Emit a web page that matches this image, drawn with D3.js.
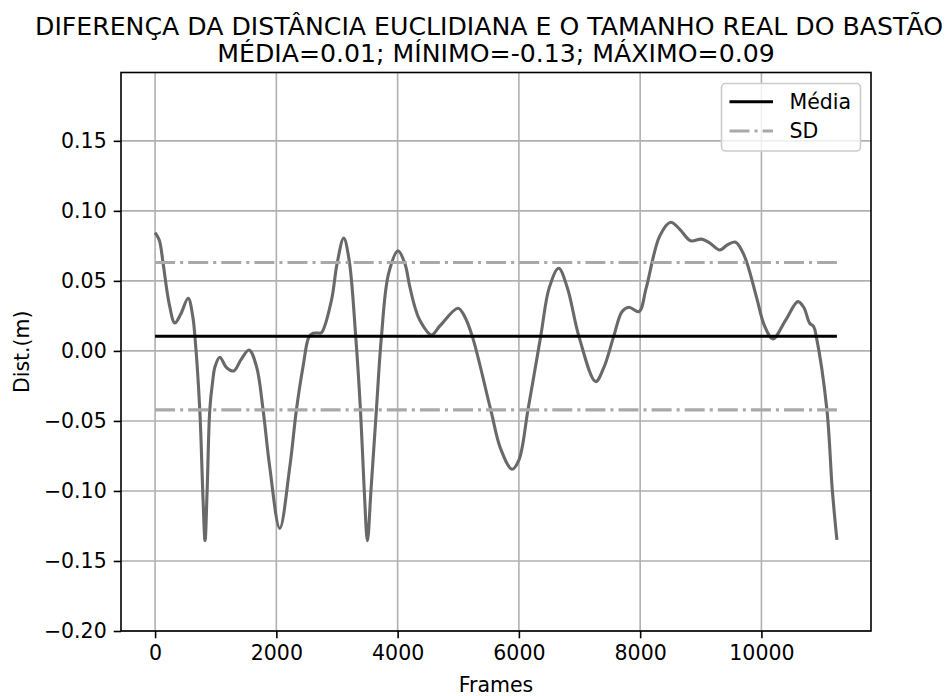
<!DOCTYPE html>
<html>
<head>
<meta charset="utf-8">
<style>
  body { margin: 0; background: #ffffff; }
  svg { display: block; font-family: "DejaVu Sans", sans-serif; }
  .grid line { stroke: #b0b0b0; stroke-width: 1.6; }
  .axis path, .axis line { stroke: #000; stroke-width: 1.6; }
  .axis text { fill: #000; font-size: 20.5px; font-family: "DejaVu Sans", sans-serif; }
</style>
</head>
<body>
<svg id="chart" width="949" height="696"></svg>
<script src="https://cdn.jsdelivr.net/npm/d3@7"></script>
<script>
// values
let frames = [0, 70, 132, 231, 325, 420, 545, 620, 657, 737, 790, 824, 858, 902, 946, 990, 1067, 1180, 1298, 1420, 1550,
  1672, 1781, 1891, 2056, 2221, 2331, 2441, 2539, 2605, 2680, 2743, 2908, 3000, 3111, 3200, 3309, 3387, 3450, 3502, 3560, 3650,
  3733, 3850, 4007, 4118, 4200, 4282, 4364, 4557, 4700, 4996, 5100, 5233, 5535, 5700, 5886, 6000, 6150, 6359, 6500, 6656, 6800, 6991,
  7266, 7400, 7563, 7700, 7815, 7980, 8100, 8322, 8503, 8650, 8833, 9009, 9150, 9311, 9450, 9575, 9723, 9916, 10050, 10190,
  10400, 10602, 10700, 10795, 10861, 10905, 11080, 11169, 11245]
let dist = [0.0845, 0.079, 0.0626, 0.034, 0.020, 0.026, 0.0376, 0.025, 0.0102, -0.042, -0.105, -0.1355, -0.10, -0.042, -0.023, -0.011, -0.0045, -0.012, -0.0143, -0.006, 0.0007,
  -0.011, -0.042, -0.083, -0.1267, -0.083, -0.042, -0.011, 0.0102, 0.0126, 0.0128, 0.013, 0.036, 0.062, 0.0805, 0.065, 0.0102, -0.042, -0.10, -0.1355, -0.10, -0.042,
  0.0102, 0.055, 0.0714, 0.0626, 0.046, 0.0317, 0.022, 0.0114, 0.018, 0.0305, 0.025, 0.0102, -0.042, -0.070, -0.0845, -0.078, -0.042, 0.0102, 0.045, 0.059, 0.045, 0.0102,
  -0.0219, -0.012, 0.0102, 0.028, 0.0312, 0.028, 0.045, 0.082, 0.0919, 0.087, 0.0786, 0.0798, 0.077, 0.0721, 0.076, 0.0776, 0.0674, 0.0388, 0.018, 0.0086,
  0.022, 0.0352, 0.031, 0.0198, 0.0174, 0.0102, -0.042, -0.0993, -0.135]
let meanValue = 0.0105
let sdValue = 0.0526
let xTicks = [0, 2000, 4000, 6000, 8000, 10000]
let yTicks = [-0.20, -0.15, -0.10, -0.05, 0.00, 0.05, 0.10, 0.15]
let titleLines = ["DIFERENÇA DA DISTÂNCIA EUCLIDIANA E O TAMANHO REAL DO BASTÃO",
  "MÉDIA=0.01; MÍNIMO=-0.13; MÁXIMO=0.09"]
let legendLabels = ["Média", "SD"]

let svg = d3.select("#chart")
let plotLeft = 121, plotRight = 871, plotTop = 72.5, plotBottom = 631

let xMin = d3.min(frames), xMax = d3.max(frames)
let pad = (xMax - xMin) * 0.05
let xScale = d3.scaleLinear().domain([xMin - pad, xMax + pad]).range([plotLeft, plotRight])
let yScale = d3.scaleLinear().domain([-0.2, 0.1988]).range([plotBottom, plotTop])

// grid
let grid = svg.append("g").attr("class", "grid")
grid.selectAll("line.gx").data(xTicks).enter().append("line")
  .attr("x1", d => xScale(d)).attr("x2", d => xScale(d))
  .attr("y1", plotTop).attr("y2", plotBottom)
grid.selectAll("line.gy").data(yTicks).enter().append("line")
  .attr("x1", plotLeft).attr("x2", plotRight)
  .attr("y1", d => yScale(d)).attr("y2", d => yScale(d))

let points = frames.map((f, i) => [f, dist[i]])

let line = d3.line()
  .x(d => xScale(d[0]))
  .y(d => yScale(d[1]))
  .curve(d3.curveCatmullRom.alpha(0.5))

svg.append("path")
  .datum(points)
  .attr("d", line)
  .attr("fill", "none")
  .attr("stroke", "#696969")
  .attr("stroke-width", 3.1)

// mean and sd lines
let flat = d3.line().x(d => xScale(d[0])).y(d => yScale(d[1]))
svg.append("path")
  .datum([[xMin, meanValue], [xMax, meanValue]])
  .attr("d", flat)
  .attr("stroke", "#000").attr("stroke-width", 3.1)
let dashDot = "20,5,3.1,5"
;[meanValue + sdValue, meanValue - sdValue].forEach(v => {
  svg.append("path")
    .datum([[xMin, v], [xMax, v]])
    .attr("d", flat)
    .attr("stroke", "#a9a9a9").attr("stroke-width", 3.1)
    .attr("stroke-dasharray", dashDot)
})

// axes
let fmt = d => d3.format(".2f")(d).replace("-", "\u2212")
let xAxis = d3.axisBottom(xScale).tickValues(xTicks).tickSize(7.3).tickPadding(7).tickFormat(d3.format("d"))
let yAxis = d3.axisLeft(yScale).tickValues(yTicks).tickSize(7.3).tickPadding(7).tickFormat(fmt)
svg.append("g").attr("class", "axis").attr("transform", `translate(0,${plotBottom})`).call(xAxis)
  .call(g => g.select(".domain").remove())
svg.append("g").attr("class", "axis").attr("transform", `translate(${plotLeft},0)`).call(yAxis)
  .call(g => g.select(".domain").remove())

svg.append("rect")
  .attr("x", plotLeft).attr("y", plotTop).attr("width", plotRight - plotLeft).attr("height", plotBottom - plotTop)
  .attr("fill", "none").attr("stroke", "#000").attr("stroke-width", 1.6)

// labels
svg.append("text").attr("x", (plotLeft + plotRight) / 2).attr("y", 692)
  .attr("text-anchor", "middle").style("font-size", "20.5px").text("Frames")
svg.append("text").attr("transform", `translate(29,${(plotTop + plotBottom) / 2}) rotate(-90)`)
  .attr("text-anchor", "middle").style("font-size", "20.5px").text("Dist.(m)")

svg.selectAll("text.title").data(titleLines).enter().append("text")
  .attr("class", "title")
  .attr("x", (d, i) => (plotLeft + plotRight) / 2 - (i == 0 ? 7 : 0))
  .attr("y", (d, i) => 35 + i * 26.5)
  .attr("text-anchor", "middle")
  .style("font-size", "25.2px")
  .text(d => d)

// legend
let legend = svg.append("g")
legend.append("rect")
  .attr("x", 721.5).attr("y", 83.5).attr("width", 139).attr("height", 67.5).attr("rx", 4)
  .attr("fill", "#fff").attr("fill-opacity", 0.8).attr("stroke", "#cccccc").attr("stroke-width", 1.6)
legendLabels.forEach((label, i) => {
  let y = 101.7 + i * 29.3
  legend.append("line")
    .attr("x1", 729.5).attr("x2", 773).attr("y1", y).attr("y2", y)
    .attr("stroke", i == 0 ? "#000" : "#a9a9a9").attr("stroke-width", 3.1)
    .attr("stroke-dasharray", i == 0 ? null : dashDot)
  legend.append("text").attr("x", 789.5).attr("y", y + 7.3)
    .style("font-size", "20.5px").text(label)
})
</script>
</body>
</html>
